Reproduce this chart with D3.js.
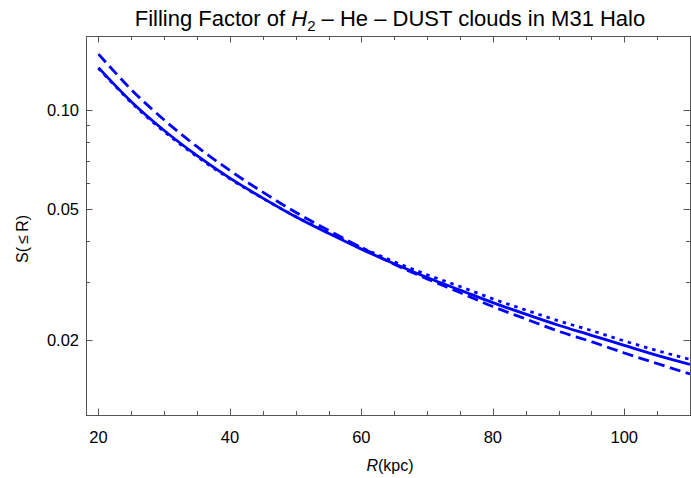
<!DOCTYPE html>
<html>
<head>
<meta charset="utf-8">
<script src="https://cdn.jsdelivr.net/npm/d3@7"></script>
<style>
  body { margin: 0; background: #fff; }
  svg { display: block; font-family: "Liberation Sans", Arial, sans-serif; }
</style>
</head>
<body>
<svg id="chart" width="691" height="478"></svg>
<script>
var radius = [20, 25, 30, 35, 40, 45, 50, 55, 60, 65, 70, 75, 80, 85, 90, 95, 100, 105, 110];
// S(<=R) for the three cases
var solidS  = [0.1346, 0.1060, 0.0866, 0.0726, 0.0620, 0.0539, 0.0473, 0.0421, 0.0377, 0.0340,
               0.0309, 0.0283, 0.0259, 0.0239, 0.0221, 0.0206, 0.0192, 0.0179, 0.0168];
var dashedS = [0.1480, 0.1153, 0.0932, 0.0773, 0.0654, 0.0562, 0.0488, 0.0430, 0.0381, 0.0339,
               0.0306, 0.0278, 0.0252, 0.0231, 0.0212, 0.0197, 0.0182, 0.0169, 0.0157];
var dottedS = [0.1339, 0.1053, 0.0859, 0.0721, 0.0617, 0.0538, 0.0474, 0.0423, 0.0381, 0.0345,
               0.0315, 0.0290, 0.0266, 0.0246, 0.0228, 0.0213, 0.0198, 0.0185, 0.0174];

var xMajor = [20, 40, 60, 80, 100];
var xMinor = [25, 30, 35, 45, 50, 55, 65, 70, 75, 85, 90, 95, 105, 110];
var yMajor = [0.02, 0.05, 0.10];
var yMajorLabels = ["0.02", "0.05", "0.10"];
var yMinor = [0.03, 0.04, 0.06, 0.07, 0.08, 0.09];

var plotL = 86, plotR = 690, plotT = 36, plotB = 415;
var svg = d3.select("#chart");

var x = d3.scaleLinear().domain([18.1, 110]).range([plotL, plotR]);
var y = d3.scaleLog().domain([0.01178, 0.168]).range([plotB, plotT]);

var frameColor = "#555";
var majorLen = 6.5, minorLen = 4;

// frame
svg.append("rect")
  .attr("x", plotL + 0.5).attr("y", plotT + 0.5)
  .attr("width", plotR - plotL).attr("height", plotB - plotT)
  .attr("fill", "none").attr("stroke", frameColor).attr("stroke-width", 1);

var ticks = svg.append("g").attr("stroke", frameColor).attr("stroke-width", 1);

// x ticks, bottom and top
xMajor.concat(xMinor).forEach(function (v) {
  var len = xMajor.indexOf(v) >= 0 ? majorLen : minorLen;
  var px = Math.round(x(v)) + 0.5;
  ticks.append("line").attr("x1", px).attr("x2", px).attr("y1", plotB).attr("y2", plotB - len);
  ticks.append("line").attr("x1", px).attr("x2", px).attr("y1", plotT).attr("y2", plotT + len);
});

// y ticks, left and right
yMajor.concat(yMinor).forEach(function (v) {
  var len = yMajor.indexOf(v) >= 0 ? majorLen : minorLen;
  var py = Math.round(y(v)) + 0.5;
  ticks.append("line").attr("x1", plotL).attr("x2", plotL + len).attr("y1", py).attr("y2", py);
  ticks.append("line").attr("x1", plotR).attr("x2", plotR - len).attr("y1", py).attr("y2", py);
});

// tick labels
svg.append("g").selectAll("text").data(xMajor).enter().append("text")
  .attr("x", function (d) { return x(d); })
  .attr("y", 443)
  .attr("text-anchor", "middle")
  .attr("font-size", 16.5)
  .attr("fill", "#000")
  .text(function (d) { return d; });

svg.append("g").selectAll("text").data(yMajor).enter().append("text")
  .attr("x", 79)
  .attr("y", function (d) { return y(d) + 6; })
  .attr("text-anchor", "end")
  .attr("font-size", 16.5)
  .attr("fill", "#000")
  .text(function (d, i) { return yMajorLabels[i]; });

// axis titles
var xt = svg.append("text")
  .attr("x", 390).attr("y", 471)
  .attr("text-anchor", "middle")
  .attr("font-size", 16);
xt.append("tspan").attr("font-style", "italic").text("R");
xt.append("tspan").text("(kpc)");

svg.append("text")
  .attr("transform", "translate(28,239) rotate(-90)")
  .attr("text-anchor", "middle")
  .attr("font-size", 16)
  .text("S(\u2009\u2264\u2009R)");

// title
var title = svg.append("text")
  .attr("x", 390).attr("y", 26)
  .attr("text-anchor", "middle")
  .attr("font-size", 22);
title.append("tspan").text("Filling Factor of ");
title.append("tspan").attr("font-style", "italic").text("H");
title.append("tspan").attr("font-size", 15).attr("dy", 5).text("2");
title.append("tspan").attr("dy", -5).text(" \u2013 He \u2013 DUST clouds in M31 Halo");

// curves
svg.append("clipPath").attr("id", "plotClip")
  .append("rect").attr("x", plotL).attr("y", plotT).attr("width", plotR - plotL).attr("height", plotB - plotT);

var line = d3.line()
  .x(function (d) { return x(d[0]); })
  .y(function (d) { return y(d[1]); })
  .curve(d3.curveCatmullRom);

var series = [
  { values: solidS, dash: null },
  { values: dashedS, dash: "11,5.5" },
  { values: dottedS, dash: "3.5,5" }
];

var plot = svg.append("g").attr("clip-path", "url(#plotClip)");
series.forEach(function (s) {
  plot.append("path")
    .datum(radius.map(function (r, i) { return [r, s.values[i]]; }))
    .attr("d", line)
    .attr("fill", "none")
    .attr("stroke", "#0000ff")
    .attr("stroke-width", 2.8)
    .attr("stroke-dasharray", s.dash);
});
</script>
</body>
</html>
